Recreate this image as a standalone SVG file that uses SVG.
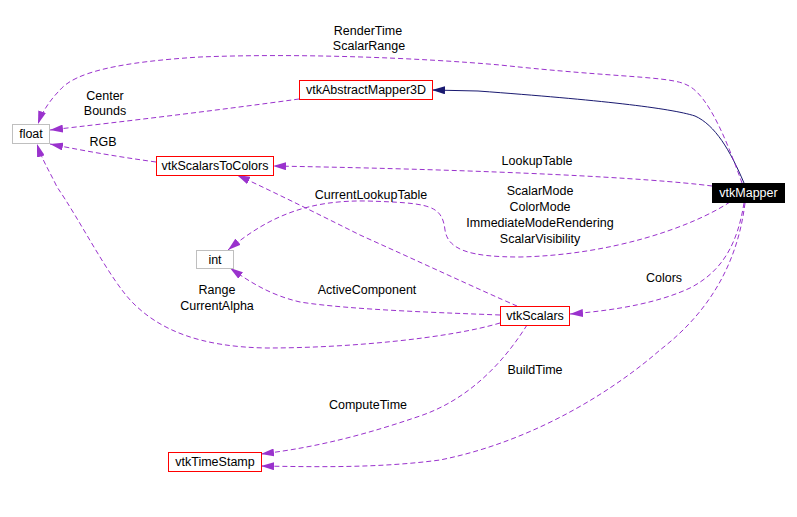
<svg xmlns="http://www.w3.org/2000/svg" width="797" height="517" viewBox="0 0 797 517">
<style>
text{font-family:"Liberation Sans",Arial,sans-serif;font-size:12.5px;fill:#000}
.n text{text-anchor:middle}
.red{fill:#fff;stroke:#ff0000;stroke-width:1}
.gray{fill:#fff;stroke:#bfbfbf;stroke-width:1}
.e{fill:none;stroke:#9a32cd;stroke-width:1;stroke-dasharray:5,3;marker-end:url(#ap)}
.inh{fill:none;stroke:#191970;stroke-width:1;marker-end:url(#an)}
.lbl text{text-anchor:middle}
</style>
<defs>
<marker id="ap" markerWidth="13" markerHeight="8" refX="13" refY="4" orient="auto" markerUnits="userSpaceOnUse"><path d="M0,0 L13,4 L0,8 z" fill="#9a32cd"/></marker>
<marker id="an" markerWidth="13" markerHeight="8" refX="13" refY="4" orient="auto" markerUnits="userSpaceOnUse"><path d="M0,0 L13,4 L0,8 z" fill="#191970"/></marker>
</defs>
<rect width="797" height="517" fill="#fff"/>
<g id="edges">
<path class="inh" d="M744,183 C730,150 715,125 695,116 C670,108 600,100 478,91 L432,90"/>
<path class="e" d="M742,183 C730,150 710,95 687,85 C670,76 620,78 500,65 C420,58 300,53 200,57 C120,62 75,72 60,90 C50,100 42,112 38,124"/>
<path class="e" d="M299,99 C220,110 120,122 50,130"/>
<path class="e" d="M156,162 C120,157 90,152 50,144"/>
<path class="e" d="M712,186 C650,178 500,170 273,166"/>
<path class="e" d="M730,202 C690,228 610,255 520,257 C470,257 448,250 445,230 C442,205 430,203 367,201 C310,200 270,215 228,250"/>
<path class="e" d="M517,306 C480,290 420,262 360,235 C320,215 280,195 237,175"/>
<path class="e" d="M500,315 C450,313 350,310 300,302 C270,295 250,282 230,268"/>
<path class="e" d="M500,323 C450,338 350,348 267,348 C200,347 160,330 133,303 C110,280 80,220 57,187 C50,172 42,160 37,144"/>
<path class="e" d="M744,203 C738,240 725,270 690,288 C660,302 620,310 570,314"/>
<path class="e" d="M745,203 C738,260 712,310 660,350 C620,385 540,440 440,460 C380,468 320,467 261,466"/>
<path class="e" d="M527,325 C505,360 470,400 417,417 C370,433 320,447 261,454"/>
</g>
<g class="lbl" id="labels">
<text x="368" y="35">RenderTime</text>
<text x="369" y="50">ScalarRange</text>
<text x="105" y="100">Center</text>
<text x="105" y="115">Bounds</text>
<text x="103" y="146">RGB</text>
<text x="537" y="165">LookupTable</text>
<text x="540" y="195">ScalarMode</text>
<text x="540" y="211">ColorMode</text>
<text x="540" y="227">ImmediateModeRendering</text>
<text x="540" y="243">ScalarVisibility</text>
<text x="371" y="199">CurrentLookupTable</text>
<text x="367" y="294">ActiveComponent</text>
<text x="217" y="294">Range</text>
<text x="217" y="310">CurrentAlpha</text>
<text x="664" y="282">Colors</text>
<text x="535" y="374">BuildTime</text>
<text x="368" y="409">ComputeTime</text>
</g>
<g class="n" id="node-vtkMapper"><rect x="712.5" y="183.5" width="72" height="19" fill="#000" stroke="#000"/><text x="748.5" y="197" style="fill:#fff">vtkMapper</text></g>
<g class="n" id="node-vtkAbstractMapper3D"><rect class="red" x="299.5" y="80.5" width="133" height="19"/><text x="366" y="94">vtkAbstractMapper3D</text></g>
<g class="n" id="node-float"><rect class="gray" x="12.5" y="124.5" width="37" height="19"/><text x="31" y="138">float</text></g>
<g class="n" id="node-vtkScalarsToColors"><rect class="red" x="156.5" y="156.5" width="117" height="19"/><text x="215" y="170">vtkScalarsToColors</text></g>
<g class="n" id="node-int"><rect class="gray" x="196.5" y="250.5" width="37" height="18"/><text x="215" y="263.5">int</text></g>
<g class="n" id="node-vtkScalars"><rect class="red" x="500.5" y="306.5" width="69" height="19"/><text x="535" y="320">vtkScalars</text></g>
<g class="n" id="node-vtkTimeStamp"><rect class="red" x="168.5" y="452.5" width="93" height="19"/><text x="215" y="466">vtkTimeStamp</text></g>
</svg>
